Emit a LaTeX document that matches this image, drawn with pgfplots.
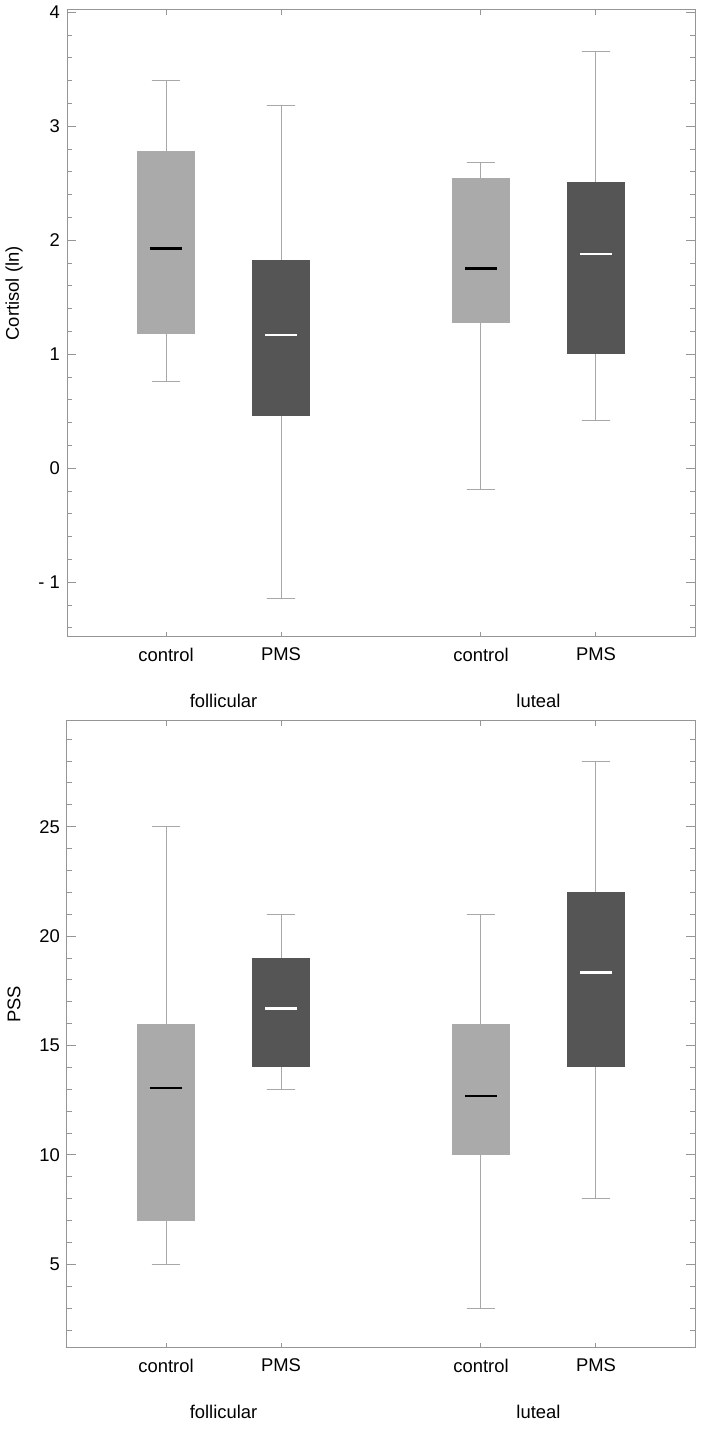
\documentclass[border=0pt]{standalone}
\usepackage{fontspec}
\setmainfont{Liberation Sans}
\usepackage{pgfplots}
\usepgfplotslibrary{statistics}
\pgfplotsset{compat=1.18}

\definecolor{lightbox}{RGB}{170,170,170}
\definecolor{darkbox}{RGB}{85,85,85}
\definecolor{whisk}{RGB}{168,168,168}
\definecolor{framec}{RGB}{150,150,150}

\pgfplotsset{
  panel/.style={
    scale only axis, width=314pt, height=313.5pt,
    xmin=0.139, xmax=5.6,
    clip=false,
    axis line style={framec, line width=0.5pt},
    tick align=inside,
    tick style={framec, line width=0.5pt},
    major tick length=4.5pt, minor tick length=2.5pt,
    xtick={1,2,3.739,4.739},
    xticklabels={control,PMS,control,PMS},
    xtick style={/pgfplots/major tick length=2.5pt},
    x tick label style={yshift=-2pt},
    extra x ticks={1.5,4.239},
    extra x tick labels={follicular,luteal},
    extra x tick style={tick style={draw=none}, tick label style={yshift=-23pt}},
    ticklabel style={font=\fontsize{9.2}{11}\selectfont, text=black},
    label style={font=\fontsize{9.2}{11}\selectfont, text=black},
    ylabel style={at={(axis description cs:-0.0844,0.548)}, anchor=center},
    boxplot/draw direction=y,
    boxplot/box extend=0.5,
    boxplot/whisker extend=0.25,
    boxplot/draw/median/.code={
      \draw[/pgfplots/boxplot/every median/.try]
        (boxplot box cs:\pgfplotsboxplotvalue{median},0.23) --
        (boxplot box cs:\pgfplotsboxplotvalue{median},0.77);
    },
  },
  lbox/.style={fill=lightbox, draw=whisk, line width=0.5pt,
    boxplot/every box/.style={draw=none},
    boxplot/every median/.style={draw=black, line width=1.3pt}},
  dbox/.style={fill=darkbox, draw=whisk, line width=0.5pt,
    boxplot/every box/.style={draw=none},
    boxplot/every median/.style={draw=white, line width=1.3pt}},
}

\begin{document}
\begin{tikzpicture}
\path[use as bounding box] (0,0) rectangle (350.5pt,715pt);

% cortisol
\begin{axis}[panel, at={(33.5pt,396.5pt)}, anchor=south west,
  ymin=-1.48, ymax=4.02,
  ytick={-1,0,1,2,3,4}, yticklabels={- 1,0,1,2,3,4},
  minor ytick={-1.4,-1.2,-0.8,-0.6,-0.4,-0.2,0.2,0.4,0.6,0.8,1.2,1.4,1.6,1.8,2.2,2.4,2.6,2.8,3.2,3.4,3.6,3.8},
  ylabel={Cortisol (ln)}]
\addplot[lbox, boxplot prepared={draw position=1,
  lower whisker=0.76, lower quartile=1.18, median=1.93,
  upper quartile=2.78, upper whisker=3.40}] coordinates {};
\addplot[dbox, boxplot prepared={draw position=2,
  lower whisker=-1.14, lower quartile=0.46, median=1.17,
  upper quartile=1.83, upper whisker=3.18}] coordinates {};
\addplot[lbox, boxplot prepared={draw position=3.739,
  lower whisker=-0.19, lower quartile=1.27, median=1.75,
  upper quartile=2.55, upper whisker=2.68}] coordinates {};
\addplot[dbox, boxplot prepared={draw position=4.739,
  lower whisker=0.42, lower quartile=1.00, median=1.88,
  upper quartile=2.51, upper whisker=3.66}] coordinates {};
\end{axis}

% PSS
\begin{axis}[panel, at={(33.5pt,41pt)}, anchor=south west,
  ymin=1.18, ymax=29.83,
  ytick={5,10,15,20,25}, yticklabels={5,10,15,20,25},
  minor ytick={2,3,4,6,7,8,9,11,12,13,14,16,17,18,19,21,22,23,24,26,27,28,29},
  ylabel={PSS}]
\addplot[lbox, boxplot prepared={draw position=1,
  lower whisker=5, lower quartile=7, median=13.06,
  upper quartile=16, upper whisker=25}] coordinates {};
\addplot[dbox, boxplot prepared={draw position=2,
  lower whisker=13, lower quartile=14, median=16.7,
  upper quartile=19, upper whisker=21}] coordinates {};
\addplot[lbox, boxplot prepared={draw position=3.739,
  lower whisker=3, lower quartile=10, median=12.7,
  upper quartile=16, upper whisker=21}] coordinates {};
\addplot[dbox, boxplot prepared={draw position=4.739,
  lower whisker=8, lower quartile=14, median=18.35,
  upper quartile=22, upper whisker=28}] coordinates {};
\end{axis}
\end{tikzpicture}
\end{document}
